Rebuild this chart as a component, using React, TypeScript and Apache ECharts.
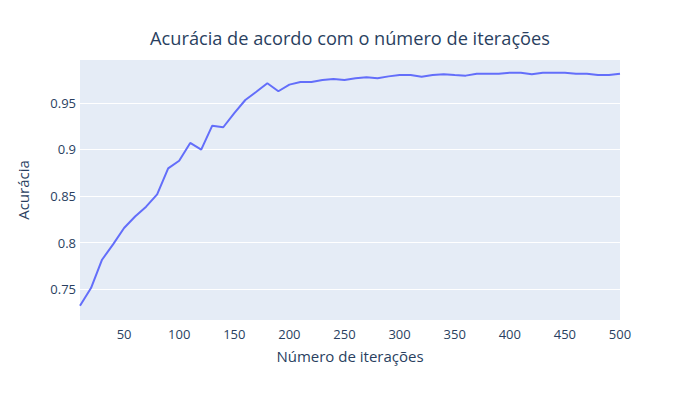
import React, { useEffect, useRef } from "react";
import * as echarts from "echarts";

const iterations = [10, 20, 30, 40, 50, 60, 70, 80, 90, 100, 110, 120, 130, 140, 150, 160, 170, 180, 190, 200, 210, 220, 230, 240, 250, 260, 270, 280, 290, 300, 310, 320, 330, 340, 350, 360, 370, 380, 390, 400, 410, 420, 430, 440, 450, 460, 470, 480, 490, 500];
const accuracy = [0.732, 0.751, 0.7815, 0.798, 0.8156, 0.828, 0.8385, 0.8518, 0.8797, 0.8879, 0.907, 0.8998, 0.9256, 0.9239, 0.939, 0.9532, 0.962, 0.9712, 0.9626, 0.9697, 0.9726, 0.9726, 0.9747, 0.9758, 0.9747, 0.9765, 0.9776, 0.9765, 0.9786, 0.98, 0.98, 0.9783, 0.98, 0.981, 0.98, 0.9794, 0.9815, 0.9815, 0.9815, 0.9826, 0.9826, 0.981, 0.9826, 0.9826, 0.9826, 0.9815, 0.9815, 0.98, 0.98, 0.9815];
const xTicks = [50, 100, 150, 200, 250, 300, 350, 400, 450, 500];
const yTicks = [0.75, 0.8, 0.85, 0.9, 0.95];

const FONT = '"Open Sans", verdana, arial, sans-serif';
const TEXT = "#2a3f5f";

export default function App() {
  const ref = useRef<HTMLDivElement>(null);
  useEffect(() => {
    if (!ref.current) return;
    const chart = echarts.init(ref.current, undefined, { renderer: "svg" });
    chart.setOption({
      animation: false,
      backgroundColor: "#ffffff",
      title: {
        text: "Acurácia de acordo com o número de iterações",
        left: "center",
        top: 24,
        textStyle: { fontFamily: FONT, fontSize: 18.2, fontWeight: "normal", color: TEXT },
      },
      grid: { left: 80, right: 80, top: 60, bottom: 80, backgroundColor: "#E5ECF6", show: true, borderWidth: 0 },
      xAxis: {
        type: "value",
        min: 10,
        max: 500,
        name: "Número de iterações",
        nameLocation: "middle",
        nameGap: 28,
        nameTextStyle: { fontFamily: FONT, fontSize: 15, color: TEXT },
        axisLine: { show: false },
        axisTick: { show: false, customValues: xTicks },
        splitLine: { show: false },
        axisLabel: { customValues: xTicks, fontFamily: FONT, fontSize: 13, color: TEXT, margin: 7 },
      },
      yAxis: {
        type: "value",
        min: 0.7167,
        max: 0.9962,
        name: "Acurácia",
        nameLocation: "middle",
        nameGap: 50,
        nameRotate: 90,
        nameTextStyle: { fontFamily: FONT, fontSize: 15, color: TEXT },
        axisLine: { show: false },
        axisTick: { show: false, customValues: yTicks },
        splitLine: { show: true, lineStyle: { color: "#ffffff", width: 1 } },
        axisLabel: { customValues: yTicks, fontFamily: FONT, fontSize: 13, color: TEXT, margin: 4 },
      },
      series: [
        {
          type: "line",
          data: iterations.map((x, i) => [x, accuracy[i]]),
          showSymbol: false,
          lineStyle: { color: "#636efa", width: 2 },
          itemStyle: { color: "#636efa" },
        },
      ],
    });
    return () => chart.dispose();
  }, []);
  return <div ref={ref} style={{ width: 700, height: 400, margin: -8 }} />;
}
